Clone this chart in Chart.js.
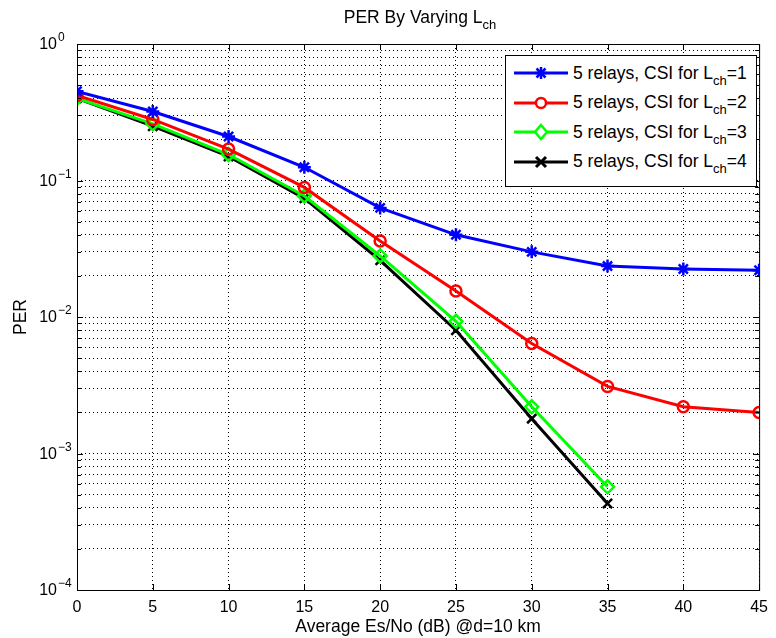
<!DOCTYPE html>
<html>
<head>
<meta charset="utf-8">
<script src="https://cdn.jsdelivr.net/npm/chart.js@4.4.1/dist/chart.umd.min.js"></script>
<style>
  html, body { margin: 0; padding: 0; background: #fff; }
  #wrap { position: relative; width: 776px; height: 638px; font-family: "Liberation Sans", Arial, sans-serif; }
  #perChart { position: absolute; left: 0; top: 0; }
  #title { position: absolute; left: 77px; width: 686px; top: 7px; text-align: center; font-size: 17.5px; color: #000; }
  #legend { position: absolute; left: 505px; top: 55px; width: 252px; height: 132px; border: 1px solid #000; background: #fff; box-sizing: border-box; }
  .row { position: absolute; left: 8px; height: 24px; display: flex; align-items: center; font-size: 17.5px; color: #000; white-space: nowrap; }
  .row svg { margin-right: 5px; }
  sub { font-size: 13px; vertical-align: -6px; line-height: 0; }
</style>
</head>
<body>
<div id="wrap">
  <canvas id="perChart" width="776" height="638"></canvas>
  <div id="title">PER By Varying L<sub>ch</sub></div>
  <div id="legend"></div>
</div>
<script>
  // Average Es/No (dB)
  const snrDb = [0, 5, 10, 15, 20, 25, 30, 35, 40, 45];

  // PER values
  const perLch1 = [0.45, 0.32, 0.21, 0.125, 0.063, 0.040, 0.030, 0.0236, 0.0225, 0.022];
  const perLch2 = [0.42, 0.28, 0.17, 0.089, 0.036, 0.0155, 0.0064, 0.0031, 0.0022, 0.0020];
  const perLch3 = [0.40, 0.26, 0.155, 0.077, 0.028, 0.0093, 0.0022, 0.00057];
  const perLch4 = [0.40, 0.25, 0.15, 0.074, 0.026, 0.0080, 0.0018, 0.00043];

  const xTicks = [0, 5, 10, 15, 20, 25, 30, 35, 40, 45];
  const yDecades = [1e-4, 1e-3, 1e-2, 1e-1, 1];
  const yExponents = ["\u22124", "\u22123", "\u22122", "\u22121", "0"];

  const seriesNames = ["1", "2", "3", "4"];
  const seriesColors = ["#0000ff", "#ff0000", "#00ff00", "#000000"];
  const seriesStyles = ["star", "circle", "rectRot", "crossRot"];
  const seriesData = [perLch1, perLch2, perLch3, perLch4];

  const FONT = "'Liberation Sans', Arial, sans-serif";

  function toPoints(values) {
    return values.map((v, i) => ({ x: snrDb[i], y: v }));
  }

  function buildLogTicks() {
    const ticks = [];
    yDecades.forEach((d, i) => {
      if (i === yDecades.length - 1) {
        ticks.push({ value: d });
        return;
      }
      for (let m = 1; m <= 9; m++) {
        ticks.push({ value: Number((d * m).toPrecision(3)) });
      }
    });
    return ticks;
  }

  function isDecade(value) {
    return yDecades.findIndex((d) => Math.abs(d - value) < d * 1e-6);
  }

  // box around the axes, inner tick marks and 10^n labels
  const axesDecor = {
    id: "axesDecor",
    afterDraw(chart) {
      const { ctx, chartArea, scales } = chart;
      const { left, right, top, bottom } = chartArea;
      ctx.save();
      ctx.strokeStyle = "#000";
      ctx.lineWidth = 1;
      ctx.strokeRect(left + 0.5, top + 0.5, right - left, bottom - top);

      ctx.beginPath();
      scales.y.ticks.forEach((t) => {
        const y = Math.round(scales.y.getPixelForValue(t.value)) + 0.5;
        const len = isDecade(t.value) >= 0 ? 6 : 4;
        ctx.moveTo(left, y); ctx.lineTo(left + len, y);
        ctx.moveTo(right, y); ctx.lineTo(right - len, y);
      });
      scales.x.ticks.forEach((t) => {
        const x = Math.round(scales.x.getPixelForValue(t.value)) + 0.5;
        ctx.moveTo(x, bottom); ctx.lineTo(x, bottom - 6);
        ctx.moveTo(x, top); ctx.lineTo(x, top + 6);
      });
      ctx.stroke();

      ctx.fillStyle = "#000";
      ctx.textBaseline = "middle";
      yDecades.forEach((d, i) => {
        const y = scales.y.getPixelForValue(d);
        ctx.font = "16px " + FONT;
        ctx.textAlign = "right";
        ctx.fillText("10", 57, y + 1);
        ctx.font = "12px " + FONT;
        ctx.textAlign = "left";
        ctx.fillText(yExponents[i], 58, y - 6);
      });
      ctx.restore();
    }
  };

  const datasets = seriesData.map((data, i) => ({
    label: "5 relays, CSI for Lch=" + seriesNames[i],
    data: toPoints(data),
    borderColor: seriesColors[i],
    backgroundColor: "rgba(0,0,0,0)",
    borderWidth: 3,
    pointStyle: seriesStyles[i],
    pointRadius: seriesStyles[i] === "circle" ? 5.5 : 6.5,
    pointBorderWidth: 2.5,
    pointBorderColor: seriesColors[i],
    pointBackgroundColor: "rgba(0,0,0,0)",
    tension: 0,
    fill: false
  }));

  new Chart(document.getElementById("perChart"), {
    type: "line",
    data: { datasets },
    plugins: [axesDecor],
    options: {
      responsive: false,
      animation: false,
      events: [],
      layout: { padding: { top: 44, right: 13, left: 0, bottom: 0 } },
      plugins: {
        legend: { display: false },
        title: { display: false },
        tooltip: { enabled: false }
      },
      scales: {
        x: {
          type: "linear",
          min: 0,
          max: 45,
          afterBuildTicks: (scale) => { scale.ticks = xTicks.map((v) => ({ value: v })); },
          afterFit: (scale) => { scale.height = 48; },
          ticks: { color: "#000", font: { family: FONT, size: 16 }, padding: 8, maxRotation: 0 },
          grid: { color: "#000", lineWidth: 1, drawTicks: false },
          border: { display: false, dash: [1, 3] },
          title: { display: true, text: "Average Es/No (dB) @d=10 km", color: "#000", font: { family: FONT, size: 17.5 }, padding: { top: 0, bottom: 0 } }
        },
        y: {
          type: "logarithmic",
          min: 1e-4,
          max: 1,
          afterBuildTicks: (scale) => { scale.ticks = buildLogTicks(); },
          afterFit: (scale) => { scale.width = 77; },
          ticks: {
            color: "#000",
            font: { family: FONT, size: 16 },
            autoSkip: false,
            callback: () => ""
          },
          grid: { color: "#000", lineWidth: 1, drawTicks: false },
          border: { display: false, dash: [1, 3] },
          title: { display: true, text: "PER", color: "#000", font: { family: FONT, size: 17.5 }, padding: { top: 11, bottom: 0 } }
        }
      }
    }
  });

  // legend with subscripts
  function markerSvg(style, color) {
    let mark = "";
    const c = 27, m = 12;
    if (style === "star") {
      mark = `<g stroke="${color}" stroke-width="2.5">
        <line x1="${c - 6}" y1="${m}" x2="${c + 6}" y2="${m}"/>
        <line x1="${c}" y1="${m - 6}" x2="${c}" y2="${m + 6}"/>
        <line x1="${c - 4.5}" y1="${m - 4.5}" x2="${c + 4.5}" y2="${m + 4.5}"/>
        <line x1="${c - 4.5}" y1="${m + 4.5}" x2="${c + 4.5}" y2="${m - 4.5}"/></g>`;
    } else if (style === "circle") {
      mark = `<circle cx="${c}" cy="${m}" r="5" fill="#fff" stroke="${color}" stroke-width="2.5"/>`;
    } else if (style === "rectRot") {
      mark = `<polygon points="${c},${m - 7} ${c + 6},${m} ${c},${m + 7} ${c - 6},${m}" fill="#fff" stroke="${color}" stroke-width="2.5"/>`;
    } else {
      mark = `<g stroke="${color}" stroke-width="3">
        <line x1="${c - 5}" y1="${m - 5}" x2="${c + 5}" y2="${m + 5}"/>
        <line x1="${c - 5}" y1="${m + 5}" x2="${c + 5}" y2="${m - 5}"/></g>`;
    }
    return `<svg width="54" height="24"><line x1="0" y1="${m}" x2="54" y2="${m}" stroke="${color}" stroke-width="3"/>${mark}</svg>`;
  }

  const legendEl = document.getElementById("legend");
  seriesNames.forEach((name, i) => {
    const row = document.createElement("div");
    row.className = "row";
    row.style.top = (5 + i * 29.5) + "px";
    row.innerHTML = markerSvg(seriesStyles[i], seriesColors[i]) +
      `<span>5 relays, CSI for L<sub>ch</sub>=${name}</span>`;
    legendEl.appendChild(row);
  });
</script>
</body>
</html>
